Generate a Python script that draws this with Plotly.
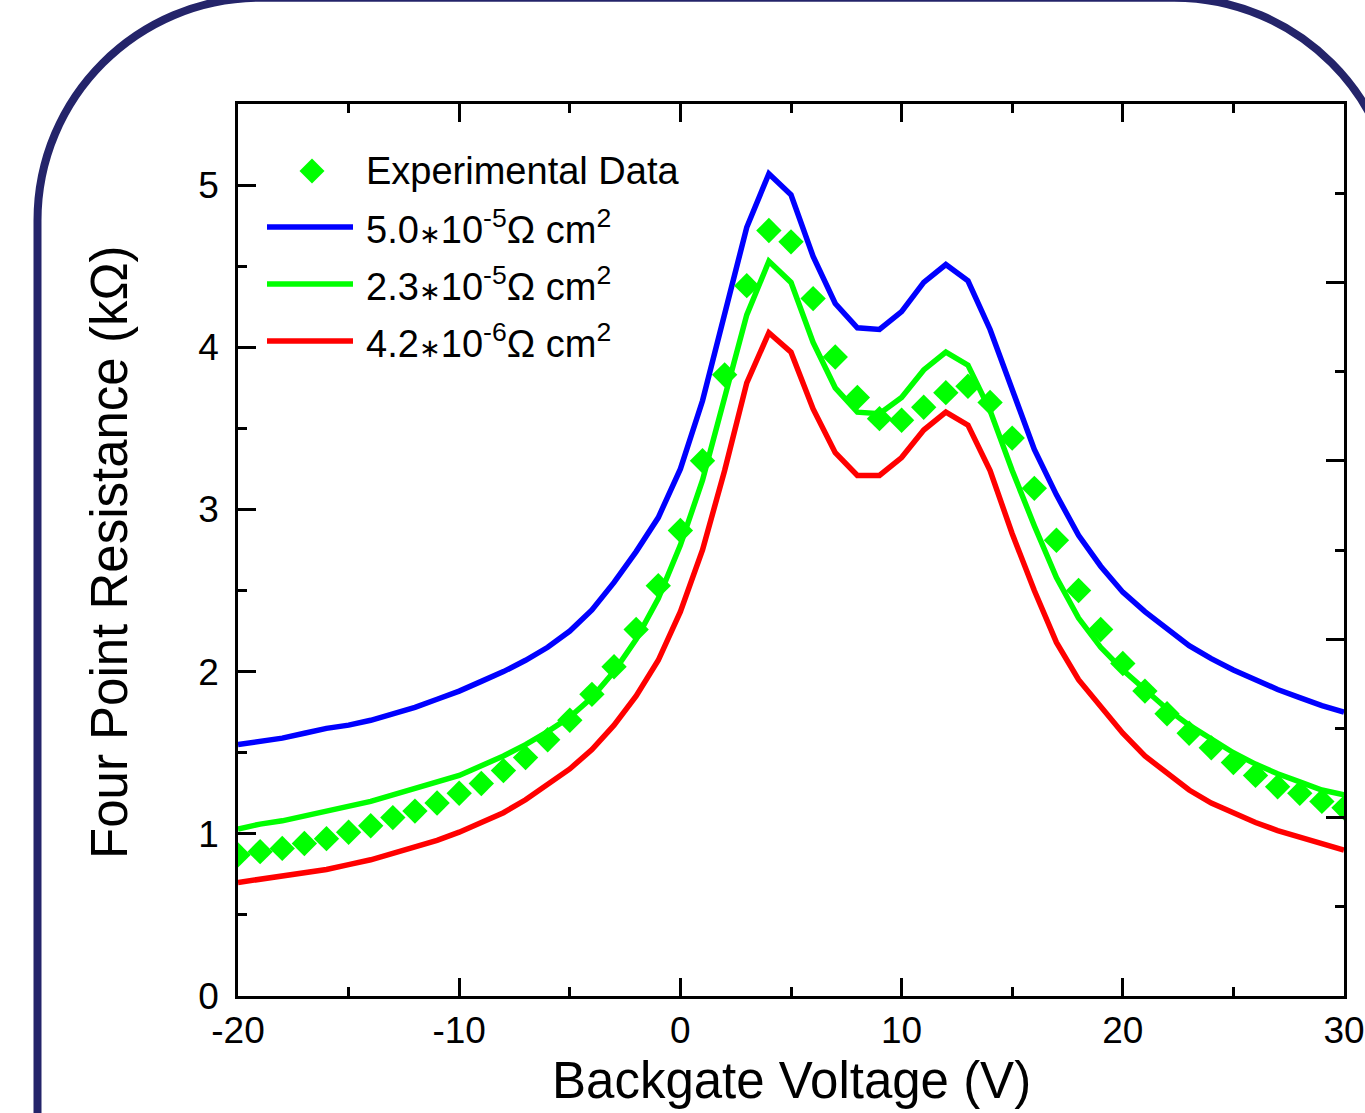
import plotly.graph_objects as go

# Backgate voltage (V)
voltage = [-20, -19, -18, -17, -16, -15, -14, -13, -12, -11,
           -10, -9, -8, -7, -6, -5, -4, -3, -2, -1,
           0, 1, 2, 3, 4, 5, 6, 7, 8, 9,
           10, 11, 12, 13, 14, 15, 16, 17, 18, 19,
           20, 21, 22, 23, 24, 25, 26, 27, 28, 29, 30]

# Measured four point resistance (kOhm)
experimental = [0.87, 0.89, 0.91, 0.94, 0.97, 1.01, 1.05, 1.10, 1.14, 1.19,
                1.25, 1.31, 1.39, 1.47, 1.58, 1.70, 1.86, 2.03, 2.26, 2.53,
                2.87, 3.30, 3.83, 4.38, 4.72, 4.65, 4.30, 3.94, 3.69, 3.56,
                3.55, 3.63, 3.72, 3.76, 3.66, 3.44, 3.13, 2.81, 2.50, 2.26,
                2.05, 1.88, 1.74, 1.62, 1.53, 1.44, 1.36, 1.29, 1.25, 1.20, 1.16]

# Model curves for three contact resistivities
model_5_0e5 = [1.55, 1.57, 1.59, 1.62, 1.65, 1.67, 1.70, 1.74, 1.78, 1.83,
               1.88, 1.94, 2.00, 2.07, 2.15, 2.25, 2.38, 2.55, 2.74, 2.95,
               3.25, 3.67, 4.19, 4.74, 5.07, 4.94, 4.56, 4.27, 4.12, 4.11,
               4.22, 4.40, 4.51, 4.41, 4.11, 3.73, 3.37, 3.09, 2.84, 2.65,
               2.49, 2.37, 2.26, 2.16, 2.08, 2.01, 1.95, 1.89, 1.84, 1.79, 1.75]

model_2_3e5 = [1.03, 1.06, 1.08, 1.11, 1.14, 1.17, 1.20, 1.24, 1.28, 1.32,
               1.36, 1.42, 1.48, 1.55, 1.63, 1.72, 1.84, 2.00, 2.20, 2.45,
               2.78, 3.18, 3.70, 4.20, 4.53, 4.40, 4.03, 3.75, 3.60, 3.59,
               3.69, 3.86, 3.97, 3.89, 3.61, 3.24, 2.90, 2.58, 2.33, 2.15,
               2.01, 1.89, 1.77, 1.67, 1.58, 1.50, 1.43, 1.37, 1.32, 1.27, 1.24]

model_4_2e6 = [0.70, 0.72, 0.74, 0.76, 0.78, 0.81, 0.84, 0.88, 0.92, 0.96,
               1.01, 1.07, 1.13, 1.21, 1.30, 1.40, 1.52, 1.67, 1.85, 2.07,
               2.37, 2.75, 3.24, 3.78, 4.09, 3.97, 3.62, 3.35, 3.21, 3.21,
               3.32, 3.49, 3.60, 3.52, 3.24, 2.85, 2.50, 2.18, 1.95, 1.78,
               1.62, 1.48, 1.37, 1.27, 1.19, 1.13, 1.07, 1.02, 0.98, 0.94, 0.90]

x_tickvals = [-20, -10, 0, 10, 20, 30]
x_ticktext = ["-20", "-10", "0", "10", "20", "30"]

STAR = "<span style='font-size:26px'>∗</span>"
legend_labels = ["Experimental Data",
                 f"5.0{STAR}10<sup>-5</sup>Ω cm<sup>2</sup>",
                 f"2.3{STAR}10<sup>-5</sup>Ω cm<sup>2</sup>",
                 f"4.2{STAR}10<sup>-6</sup>Ω cm<sup>2</sup>"]

BLUE, GREEN, RED = "#0000ff", "#00ff00", "#ff0000"
NAVY = "#24246a"
FONT = "Liberation Sans, Arial, sans-serif"

W, H = 1365, 1113
L, R, T, B = 238, 1344, 104, 996


def px_x(px):
    return (px - L) / (R - L)


def px_y(py):
    return (B - py) / (B - T)


fig = go.Figure()

for vals, col in [(model_5_0e5, BLUE), (model_2_3e5, GREEN), (model_4_2e6, RED)]:
    fig.add_trace(go.Scatter(x=voltage, y=vals, mode="lines",
                             line=dict(color=col, width=5.5), showlegend=False,
                             hoverinfo="skip"))

fig.add_trace(go.Scatter(x=voltage, y=experimental, mode="markers",
                         marker=dict(symbol="diamond", size=19.5, color=GREEN,
                                     line=dict(width=0)),
                         showlegend=False))

# secondary right-hand axis carries its own tick set
fig.add_trace(go.Scatter(x=[], y=[], yaxis="y2", showlegend=False))

axis_common = dict(showgrid=False, zeroline=False, showline=True,
                   linecolor="black", linewidth=2.5, ticks="inside",
                   tickcolor="black", tickwidth=2.5, ticklen=18,
                   tickfont=dict(family=FONT, size=37, color="black"))

fig.update_layout(
    width=W, height=H,
    margin=dict(l=L, r=W - R, t=T, b=H - B, pad=0, autoexpand=False),
    paper_bgcolor="white", plot_bgcolor="white",
    showlegend=False,
    font=dict(family=FONT, color="black"),
    xaxis=dict(range=[-20, 30], tickvals=x_tickvals, ticktext=x_ticktext,
               mirror="ticks",
               minor=dict(dtick=5, tick0=0, ticks="inside", ticklen=9,
                          tickwidth=2.5, tickcolor="black"),
               **axis_common),
    yaxis=dict(range=[0, 5.5], dtick=1, tick0=0, mirror=True,
               ticklabelstandoff=9,
               minor=dict(dtick=0.5, ticks="inside", ticklen=9, tickwidth=2.5,
                          tickcolor="black"),
               **axis_common),
    yaxis2=dict(overlaying="y", side="right", range=[0, 5], dtick=1,
                showticklabels=False, showgrid=False, zeroline=False,
                showline=False, ticks="inside", tickcolor="black",
                tickwidth=2.5, ticklen=18,
                minor=dict(dtick=0.5, ticks="inside", ticklen=9,
                           tickwidth=2.5, tickcolor="black")),
)

annotations = [
    dict(text="Backgate Voltage (V)", x=0.5, y=px_y(1080), xref="paper",
         yref="paper", xanchor="center", yanchor="middle", showarrow=False,
         font=dict(family=FONT, size=51, color="black")),
    dict(text="Four Point Resistance (kΩ)", x=px_x(109), y=px_y(552),
         xref="paper", yref="paper", xanchor="center", yanchor="middle",
         textangle=-90, showarrow=False,
         font=dict(family=FONT, size=51, color="black")),
]

# legend block
legend_rows = [171, 227, 284, 341]
for label, yrow in zip(legend_labels, legend_rows):
    annotations.append(dict(text=label, x=px_x(364), y=px_y(yrow),
                            xref="paper", yref="paper", xanchor="left",
                            yanchor="middle", showarrow=False,
                            font=dict(family=FONT, size=38, color="black")))

shapes = []
for yrow, col in zip(legend_rows[1:], [BLUE, GREEN, RED]):
    shapes.append(dict(type="line", xref="paper", yref="paper",
                       x0=px_x(267), x1=px_x(353), y0=px_y(yrow), y1=px_y(yrow),
                       line=dict(color=col, width=5.5)))

cx, cy, hd = 312, legend_rows[0], 12.5
shapes.append(dict(type="path", xref="paper", yref="paper",
                   path=(f"M{px_x(cx - hd)},{px_y(cy)} L{px_x(cx)},{px_y(cy - hd)} "
                         f"L{px_x(cx + hd)},{px_y(cy)} L{px_x(cx)},{px_y(cy + hd)} Z"),
                   fillcolor=GREEN, line=dict(width=0)))

# rounded frame around the figure
bx0, bx1, by0, rad = 37.5, 1397, -2.3, 223
k = 0.5523 * rad
frame = (f"M{px_x(bx0)},{px_y(H + 30)} "
         f"L{px_x(bx0)},{px_y(by0 + rad)} "
         f"C{px_x(bx0)},{px_y(by0 + rad - k)} {px_x(bx0 + rad - k)},{px_y(by0)} "
         f"{px_x(bx0 + rad)},{px_y(by0)} "
         f"L{px_x(bx1 - rad)},{px_y(by0)} "
         f"C{px_x(bx1 - rad + k)},{px_y(by0)} {px_x(bx1)},{px_y(by0 + rad - k)} "
         f"{px_x(bx1)},{px_y(by0 + rad)} "
         f"L{px_x(bx1)},{px_y(H + 30)}")
shapes.append(dict(type="path", xref="paper", yref="paper", path=frame,
                   line=dict(color=NAVY, width=8), layer="below"))

fig.update_layout(annotations=annotations, shapes=shapes)

fig.write_html("out.html")
